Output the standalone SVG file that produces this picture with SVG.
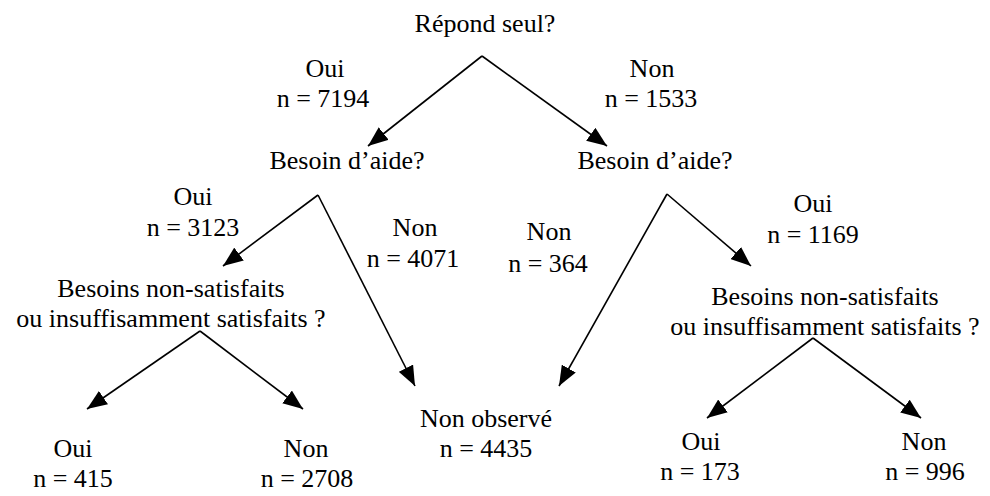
<svg xmlns="http://www.w3.org/2000/svg" width="990" height="496" viewBox="0 0 990 496">
<defs>
<marker id="ah" markerUnits="userSpaceOnUse" markerWidth="20" markerHeight="16" refX="20" refY="8" orient="auto">
<path d="M0,0 L20,8 L0,16 z" fill="#000"/>
</marker>
</defs>
<rect width="990" height="496" fill="#fff"/>
<g id="root"><text x="485" y="32" font-family="Liberation Serif" font-size="26" text-anchor="middle">Répond seul?</text></g>
<g id="besoin-left"><text x="347" y="169" font-family="Liberation Serif" font-size="26" text-anchor="middle">Besoin d’aide?</text></g>
<g id="besoin-right"><text x="655" y="169" font-family="Liberation Serif" font-size="26" text-anchor="middle">Besoin d’aide?</text></g>
<g id="besoins-left"><text x="171" y="297" font-family="Liberation Serif" font-size="26" text-anchor="middle">Besoins non-satisfaits</text><text x="171" y="327" font-family="Liberation Serif" font-size="26" text-anchor="middle">ou insuffisamment satisfaits ?</text></g>
<g id="besoins-right"><text x="825" y="305" font-family="Liberation Serif" font-size="26" text-anchor="middle">Besoins non-satisfaits</text><text x="825" y="335" font-family="Liberation Serif" font-size="26" text-anchor="middle">ou insuffisamment satisfaits ?</text></g>
<g id="non-observe"><text x="486" y="427" font-family="Liberation Serif" font-size="26" text-anchor="middle">Non observé</text><text x="486" y="457" font-family="Liberation Serif" font-size="26" text-anchor="middle">n = 4435</text></g>
<g id="leaf-ll"><text x="73" y="457" font-family="Liberation Serif" font-size="26" text-anchor="middle">Oui</text><text x="73" y="487" font-family="Liberation Serif" font-size="26" text-anchor="middle">n = 415</text></g>
<g id="leaf-lr"><text x="306" y="457" font-family="Liberation Serif" font-size="26" text-anchor="middle">Non</text><text x="307" y="487" font-family="Liberation Serif" font-size="26" text-anchor="middle">n = 2708</text></g>
<g id="leaf-rl"><text x="701" y="450" font-family="Liberation Serif" font-size="26" text-anchor="middle">Oui</text><text x="700" y="480" font-family="Liberation Serif" font-size="26" text-anchor="middle">n = 173</text></g>
<g id="leaf-rr"><text x="924" y="450" font-family="Liberation Serif" font-size="26" text-anchor="middle">Non</text><text x="925" y="480" font-family="Liberation Serif" font-size="26" text-anchor="middle">n = 996</text></g>
<g id="labels">
<text x="325" y="77" font-family="Liberation Serif" font-size="26" text-anchor="middle">Oui</text><text x="323" y="107" font-family="Liberation Serif" font-size="26" text-anchor="middle">n = 7194</text>
<text x="652" y="77" font-family="Liberation Serif" font-size="26" text-anchor="middle">Non</text><text x="651" y="107" font-family="Liberation Serif" font-size="26" text-anchor="middle">n = 1533</text>
<text x="193" y="205" font-family="Liberation Serif" font-size="26" text-anchor="middle">Oui</text><text x="193" y="236" font-family="Liberation Serif" font-size="26" text-anchor="middle">n = 3123</text>
<text x="415" y="236" font-family="Liberation Serif" font-size="26" text-anchor="middle">Non</text><text x="413" y="267" font-family="Liberation Serif" font-size="26" text-anchor="middle">n = 4071</text>
<text x="549" y="240" font-family="Liberation Serif" font-size="26" text-anchor="middle">Non</text><text x="548" y="272" font-family="Liberation Serif" font-size="26" text-anchor="middle">n = 364</text>
<text x="813" y="212" font-family="Liberation Serif" font-size="26" text-anchor="middle">Oui</text><text x="813" y="243" font-family="Liberation Serif" font-size="26" text-anchor="middle">n = 1169</text>
</g>
<g id="connectors" stroke="#000" stroke-width="1.6" marker-end="url(#ah)">
<line x1="482" y1="56" x2="368" y2="146"/>
<line x1="482" y1="56" x2="607" y2="146"/>
<line x1="318" y1="195" x2="223" y2="266"/>
<line x1="318" y1="195" x2="415" y2="386"/>
<line x1="667" y1="194" x2="559" y2="386"/>
<line x1="667" y1="194" x2="751" y2="266"/>
<line x1="200" y1="331" x2="87" y2="409"/>
<line x1="200" y1="331" x2="303" y2="409"/>
<line x1="813" y1="338" x2="707" y2="418"/>
<line x1="813" y1="338" x2="921" y2="418"/>
</g>
</svg>
